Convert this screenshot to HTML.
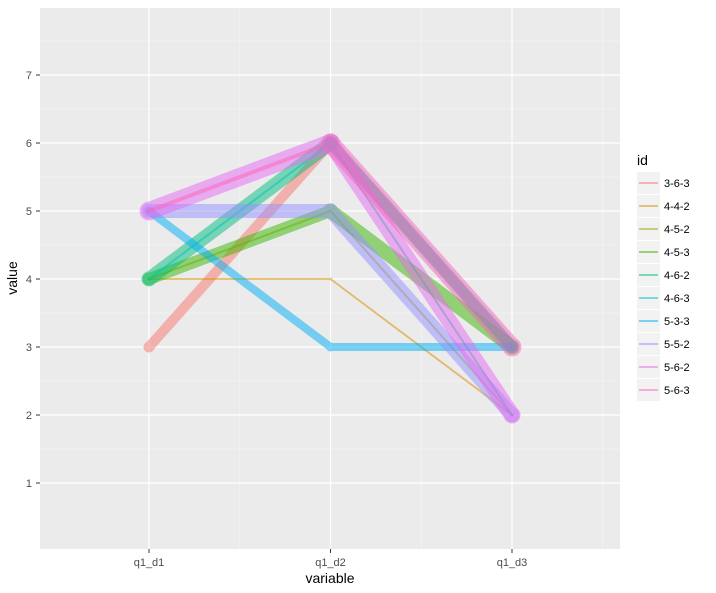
<!DOCTYPE html>
<html><head><meta charset="utf-8"><style>body{margin:0;background:#fff}svg{display:block;font-family:"Liberation Sans",sans-serif}</style></head>
<body>
<svg id="chart" width="716" height="593">
<rect x="40" y="8" width="580" height="541" fill="#ebebeb"/>
<g id="grid"></g><g id="series"></g><g id="axes"></g><g id="legend"></g>
<text x="330" y="583" font-size="14" text-anchor="middle">variable</text>
<text transform="translate(17,278) rotate(-90)" font-size="14" text-anchor="middle">value</text>
</svg>
<script>
const categories=["q1_d1","q1_d2","q1_d3"];
const ids=["3-6-3","4-4-2","4-5-2","4-5-3","4-6-2","4-6-3","5-3-3","5-5-2","5-6-2","5-6-3"];
const colors=["#F8766D","#D89000","#A3A500","#39B600","#00BF7D","#00BFC4","#00B0F6","#9590FF","#E76BF3","#FF62BC"];
const values=[[3,6,3],[4,4,2],[4,5,2],[4,5,3],[4,6,2],[4,6,3],[5,3,3],[5,5,2],[5,6,2],[5,6,3]];
const segWidths=[[10,10],[2,2],[2,2],[12,14],[14,2],[2,12],[8,8],[14,14],[18,16],[4,18]];
const yTicks=[1,2,3,4,5,6,7];
const NS="http://www.w3.org/2000/svg";
const xs=i=>149+i*181.5;
const ys=v=>75+(7-v)*68;
function mk(tag,attrs,parent){const e=document.createElementNS(NS,tag);for(const k in attrs)e.setAttribute(k,attrs[k]);parent.appendChild(e);return e;}
const grid=document.getElementById('grid'),axes=document.getElementById('axes'),ser=document.getElementById('series'),leg=document.getElementById('legend');
for(let v=1.5;v<8;v++){const l=mk('line',{x1:40,x2:620,y1:ys(v),y2:ys(v),stroke:'#f5f5f5','stroke-width':0.6},grid);

}
for(let i=0.5;i<3;i++){const l=mk('line',{x1:xs(i),x2:xs(i),y1:8,y2:549,stroke:'#f5f5f5','stroke-width':0.6},grid);

}
yTicks.forEach(v=>{const l=mk('line',{x1:40,x2:620,y1:ys(v),y2:ys(v),stroke:'#fff','stroke-width':1.2},grid);


const t=mk('text',{x:32,y:ys(v)+4,'font-size':11,fill:'#4d4d4d','text-anchor':'end'},axes);t.textContent=v;


const tk=mk('line',{x1:36,x2:40,y1:ys(v),y2:ys(v),stroke:'#333'},axes);

});
categories.forEach((c,i)=>{const l=mk('line',{x1:xs(i),x2:xs(i),y1:8,y2:549,stroke:'#fff','stroke-width':1.2},grid);


const t=mk('text',{x:xs(i),y:566,'font-size':11,fill:'#4d4d4d','text-anchor':'middle'},axes);t.textContent=c;


const tk=mk('line',{x1:xs(i),x2:xs(i),y1:549,y2:553,stroke:'#333'},axes);

});
values.forEach((vals,s)=>{const g=mk('g',{opacity:0.5},ser);


for(let i=0;i<vals.length-1;i++){const l=mk('line',{x1:xs(i),y1:ys(vals[i]),x2:xs(i+1),y2:ys(vals[i+1]),stroke:colors[s],'stroke-width':segWidths[s][i],'stroke-linecap':'round'},g);

}
for(let i=0;i<vals.length;i++){let w;
if(i===0)w=segWidths[s][0];else if(i===vals.length-1)w=segWidths[s][vals.length-2];else w=Math.max(segWidths[s][i-1],segWidths[s][i]);
const c=mk('circle',{cx:xs(i),cy:ys(vals[i]),r:w/2+0.5,fill:colors[s]},g);

}});
const tt=mk('text',{x:637,y:165,'font-size':14},leg);tt.textContent='id';


ids.forEach((id,i)=>{const y=183+i*23;
const g=mk('g',{},leg);


mk('rect',{x:637,y:y-11,width:23,height:22,fill:'#f2f2f2'},g);
mk('line',{x1:639,x2:658,y1:y,y2:y,stroke:colors[i],'stroke-width':2,opacity:0.5},g);
const t=mk('text',{x:664,y:y+4,'font-size':11},g);t.textContent=id;});
</script>
</body></html>
